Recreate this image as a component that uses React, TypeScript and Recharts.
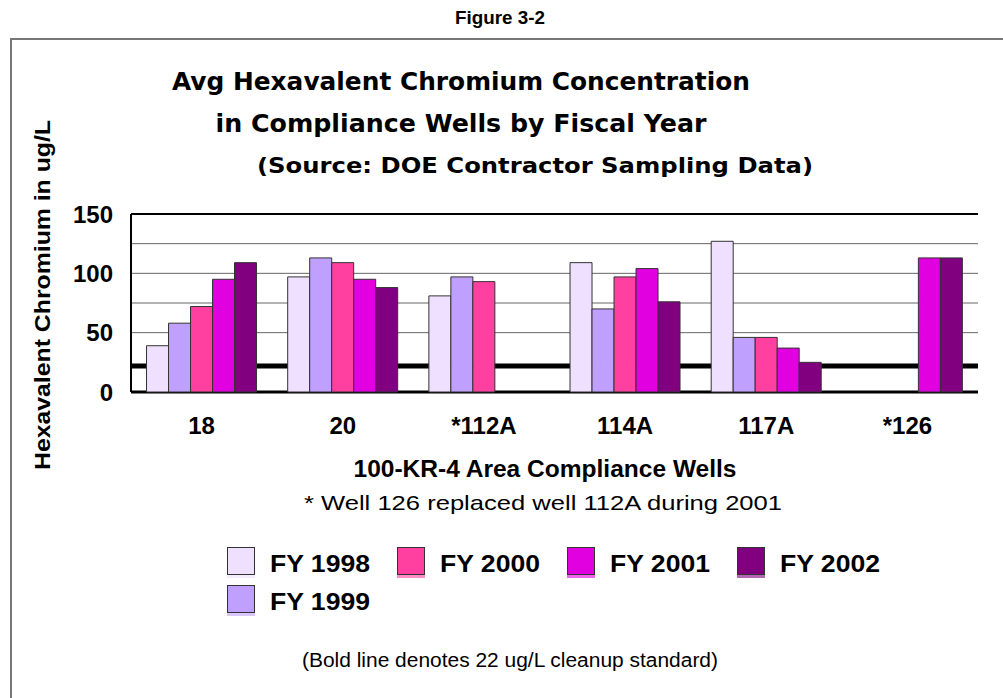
import { BarChart, Bar, XAxis, YAxis, ReferenceLine } from "recharts";

const wells = ["18", "20", "*112A", "114A", "117A", "*126"];

const fy1998 = [39, 97, 81, 109, 127, null];
const fy1999 = [58, 113, 97, 70, 46, null];
const fy2000 = [72, 109, 93, 97, 46, null];
const fy2001 = [95, 95, null, 104, 37, 113];
const fy2002 = [109, 88, null, 76, 25, 113];

const yTicks = [0, 50, 100, 150];
const minorTicks = [12.5, 37.5, 62.5, 87.5, 112.5, 137.5];
const gridValues = [50, 75, 100, 125];
const cleanupStandard = 22;

const series = [
  { key: "fy1998", name: "FY 1998", color: "#F0E0FF", values: fy1998 },
  { key: "fy1999", name: "FY 1999", color: "#C0A0FF", values: fy1999 },
  { key: "fy2000", name: "FY 2000", color: "#FF40A0", values: fy2000 },
  { key: "fy2001", name: "FY 2001", color: "#E000E0", values: fy2001 },
  { key: "fy2002", name: "FY 2002", color: "#800080", values: fy2002 },
];

// legend reads across, FY 1999 wraps to the second row
const legendOrder = ["fy1998", "fy2000", "fy2001", "fy2002", "fy1999"];

const data = wells.map((well, i) => {
  const row: Record<string, string | number | null> = { well };
  series.forEach((s) => {
    row[s.key] = s.values[i];
  });
  return row;
});

const ARIAL = "'Liberation Sans', Arial, sans-serif";
const TITLE_FONT = "'DejaVu Sans', Verdana, sans-serif";

function Label({ x, y, w, size, bold = true, family = ARIAL, anchor = "middle", children }: any) {
  return (
    <text
      x={x}
      y={y}
      fontSize={size}
      fontWeight={bold ? 700 : 400}
      fontFamily={family}
      textAnchor={anchor}
      textLength={w}
      lengthAdjust="spacingAndGlyphs"
      fill="#000"
    >
      {children}
    </text>
  );
}

function Overlay() {
  return (
    <svg width={1003} height={698} style={{ position: "absolute", left: 0, top: 0 }}>
      <rect x={11} y={39} width={1010} height={700} fill="none" stroke="#777" strokeWidth={2} />
      <Label x={500} y={24} w={90} size={18}>Figure 3-2</Label>
      <Label x={461} y={90} w={578} size={25} family={TITLE_FONT}>
        Avg Hexavalent Chromium Concentration
      </Label>
      <Label x={461} y={132} w={491} size={25} family={TITLE_FONT}>
        in Compliance Wells by Fiscal Year
      </Label>
      <Label x={535} y={173} w={556} size={22} family={TITLE_FONT}>
        (Source: DOE Contractor Sampling Data)
      </Label>
      <g transform="translate(50,295) rotate(-90)">
        <Label x={0} y={0} w={350} size={22}>Hexavalent Chromium in ug/L</Label>
      </g>
      <Label x={545} y={477} w={383} size={23}>100-KR-4 Area Compliance Wells</Label>
      <Label x={543} y={510} w={478} size={21} bold={false}>
        * Well 126 replaced well 112A during 2001
      </Label>
      {legendOrder.map((key, i) => {
        const s = series.find((d) => d.key === key)!;
        const col = i % 4;
        const row = Math.floor(i / 4);
        const sx = 227 + col * 170;
        const sy = 547 + row * 38;
        return (
          <g key={key}>
            <rect x={sx} y={sy + 28} width={28} height={3} fill={s.color} opacity={0.6} />
            <rect x={sx + 0.5} y={sy + 0.5} width={27} height={27} fill={s.color} stroke="#333" strokeWidth={1} />
            <Label x={sx + 43} y={sy + 25} w={100} size={23} anchor="start">
              {s.name}
            </Label>
          </g>
        );
      })}
      <Label x={510} y={667} w={416} size={20} bold={false}>
        (Bold line denotes 22 ug/L cleanup standard)
      </Label>
    </svg>
  );
}

export default function App() {
  return (
    <div style={{ position: "absolute", left: 0, top: 0, width: 1003, height: 698, background: "#fff" }}>
      <Overlay />
      <div style={{ position: "absolute", left: 0, top: 0 }}>
        <BarChart
          width={1003}
          height={698}
          data={data}
          margin={{ top: 214, right: 25, bottom: 266, left: 71 }}
          barCategoryGap="11%"
          barGap={0}
        >
          <XAxis
            dataKey="well"
            height={40}
            axisLine={false}
            tickLine={false}
            tickSize={0}
            tickMargin={25}
            tick={{ fontSize: 24, fontWeight: 700, fill: "#000", fontFamily: ARIAL }}
          />
          <YAxis
            domain={[0, 150]}
            ticks={yTicks}
            width={60}
            tickLine={false}
            tickSize={0}
            tickMargin={18}
            axisLine={{ stroke: "#000", strokeWidth: 2 }}
            tick={{ fontSize: 24, fontWeight: 700, fill: "#000", fontFamily: ARIAL }}
          />
          <YAxis
            yAxisId="minor"
            domain={[0, 150]}
            ticks={minorTicks}
            width={0}
            mirror
            tickSize={6}
            axisLine={false}
            tickLine={{ stroke: "#000", strokeWidth: 1 }}
            tickFormatter={() => ""}
          />
          <YAxis
            yAxisId="right"
            orientation="right"
            domain={[0, 150]}
            width={0}
            tick={false}
            tickLine={false}
            axisLine={{ stroke: "#999", strokeWidth: 2 }}
          />
          {gridValues.map((v) => (
            <ReferenceLine key={v} y={v} stroke="#666" strokeWidth={1} zIndex={-10} />
          ))}
          <ReferenceLine y={150} stroke="#000" strokeWidth={2} zIndex={-10} />
          <ReferenceLine y={cleanupStandard} stroke="#000" strokeWidth={5} zIndex={-10} />
          <ReferenceLine y={0} stroke="#000" strokeWidth={3} zIndex={-10} />
          {series.map((s) => (
            <Bar
              key={s.key}
              dataKey={s.key}
              name={s.name}
              fill={s.color}
              stroke="#333"
              strokeWidth={1}
              isAnimationActive={false}
            />
          ))}
        </BarChart>
      </div>
    </div>
  );
}
